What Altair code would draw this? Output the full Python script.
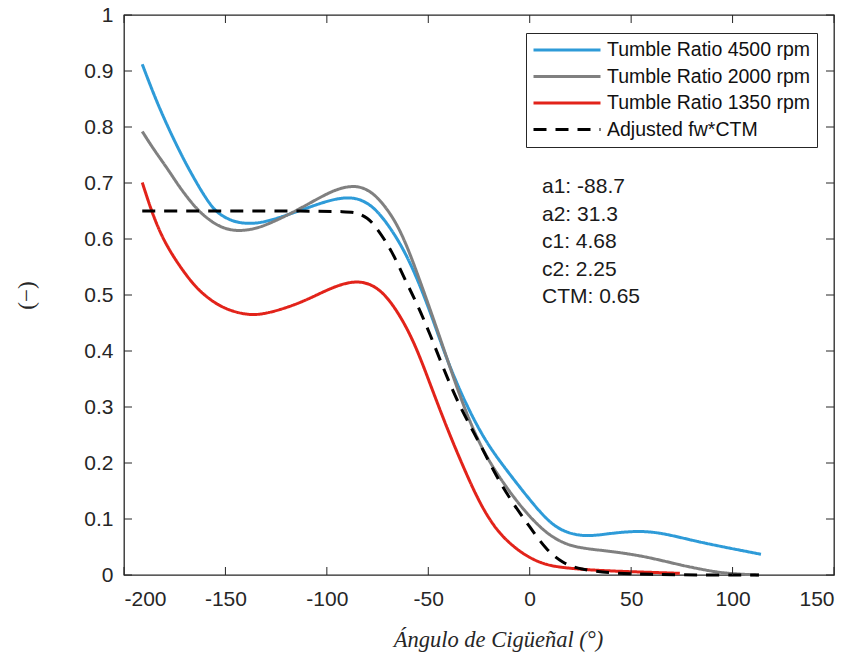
import altair as alt
import pandas as pd

# ---- data ----
series_names = ["Tumble Ratio 4500 rpm", "Tumble Ratio 2000 rpm",
                "Tumble Ratio 1350 rpm", "Adjusted fw*CTM"]

x_4500 = [-191, -185, -179, -174, -169, -162.6, -158, -154, -146, -138, -130, -113, -97, -87,
          -80.5, -74, -64, -56, -48, -41, -31, -21.4, -11.6, 0, 11.4, 21.3, 29.5, 41, 54,
          65.5, 82, 98.4, 114]
y_4500 = [0.912, 0.855, 0.805, 0.767, 0.731, 0.690, 0.664, 0.646, 0.630, 0.627, 0.630,
          0.651, 0.672, 0.675, 0.666, 0.647, 0.595, 0.535, 0.460, 0.385, 0.301, 0.236,
          0.188, 0.134, 0.086, 0.072, 0.069, 0.075, 0.079, 0.075, 0.060, 0.048, 0.037]

x_2000 = [-191, -185, -179, -174, -169, -162.6, -154, -146, -138, -130, -113, -97, -87,
          -80.5, -74, -64, -54.3, -44.4, -36.2, -28, -19.8, -8.3, 0, 8.1, 16.3, 24.5, 41,
          57.3, 73.8, 90.2, 100, 113]
y_2000 = [0.792, 0.758, 0.728, 0.700, 0.675, 0.647, 0.623, 0.614, 0.616, 0.624, 0.654,
          0.688, 0.696, 0.690, 0.672, 0.622, 0.528, 0.426, 0.337, 0.259, 0.200, 0.140,
          0.104, 0.075, 0.057, 0.048, 0.042, 0.033, 0.018, 0.006, 0.002, 0.0]

x_1350 = [-191, -185.5, -179, -169, -162.6, -154, -146, -138, -130, -113, -97, -85, -75.5,
          -67.3, -57.5, -49.3, -41.1, -32.9, -24.7, -16.5, -8.3, 0, 8.1, 16.3, 32.7, 57.3, 74]
y_1350 = [0.701, 0.639, 0.586, 0.533, 0.506, 0.482, 0.470, 0.464, 0.466, 0.485, 0.515,
          0.527, 0.516, 0.484, 0.422, 0.343, 0.265, 0.194, 0.128, 0.080, 0.051, 0.030,
          0.018, 0.013, 0.008, 0.005, 0.003]

x_fit = [-191, -150, -110, -90, -85, -80, -76, -68, -60.8, -56, -49.3, -41.1, -32.9, -24.7,
         -16.5, -8.3, 0, 8.1, 16.3, 24.5, 40.9, 60, 80, 113]
y_fit = [0.65, 0.65, 0.65, 0.649, 0.647, 0.638, 0.623, 0.580, 0.522, 0.488, 0.432, 0.355,
         0.289, 0.236, 0.176, 0.128, 0.086, 0.045, 0.021, 0.010, 0.003, 0.001, 0.0, 0.0]

x_ticks = [-200, -150, -100, -50, 0, 50, 100, 150]
y_ticks = [0, 0.1, 0.2, 0.3, 0.4, 0.5, 0.6, 0.7, 0.8, 0.9, 1]
annotation_lines = ["a1: -88.7", "a2: 31.3", "c1: 4.68", "c2: 2.25", "CTM: 0.65"]

colors = ["#2e9bd8", "#808080", "#e2231a", "#000000"]
dashes = [[1, 0], [1, 0], [1, 0], [13, 9]]
widths = [3, 3, 3, 3.5]

rows = []
for name, xs, ys in zip(series_names, [x_4500, x_2000, x_1350, x_fit],
                        [y_4500, y_2000, y_1350, y_fit]):
    for i, (a, b) in enumerate(zip(xs, ys)):
        rows.append({"series": name, "angle": a, "value": b, "order": i})
df = pd.DataFrame(rows)
xt = pd.DataFrame({"angle": x_ticks})
yt = pd.DataFrame({"value": y_ticks})

W, H = 710, 560
TL = 8  # inward tick length (px)
AX = "#262626"
xscale = alt.Scale(domain=[-200, 150], nice=False, zero=False)
yscale = alt.Scale(domain=[0, 1], nice=False, zero=False)

x_axis = alt.Axis(
    values=x_ticks, labelExpr="'' + datum.value", tickSize=0, ticks=False, labelPadding=13,
    domain=False, grid=False, labelFont="Liberation Sans", labelFontSize=21,
    labelColor=AX, title="Ángulo de Cigüeñal (°)", titleFont="Liberation Serif",
    titleFontStyle="italic", titleFontWeight="normal", titleFontSize=22.5,
    titleColor=AX, titleX=374, titleY=71, titleBaseline="alphabetic",
    titleAlign="center")
y_axis = alt.Axis(
    values=y_ticks, format="~g", tickSize=0, ticks=False, labelPadding=11, domain=False,
    grid=False, labelFont="Liberation Sans", labelFontSize=21, labelColor=AX,
    title="(−)", titleFont="Liberation Serif", titleFontWeight="normal",
    titleFontSize=23, titleColor=AX, titleAngle=270, titleX=-98, titleY=280,
    titleAlign="center", titleBaseline="middle")

X = alt.X("angle:Q", scale=xscale, axis=x_axis)
Y = alt.Y("value:Q", scale=yscale, axis=y_axis)

legend = alt.Legend(
    title=None, orient="none", legendX=402, legendY=18,
    symbolType="stroke", symbolSize=4489, symbolStrokeWidth=3.5,
    clipHeight=22, rowPadding=4.5, padding=6, labelOffset=5,
    labelFont="Liberation Sans", labelFontSize=19.5, labelColor="#111111",
    labelLimit=400, strokeColor=AX, fillColor="white",
)

lines = alt.Chart(df).mark_line(interpolate="basis").encode(
    x=X, y=Y,
    color=alt.Color("series:N", scale=alt.Scale(domain=series_names, range=colors),
                    legend=legend),
    strokeDash=alt.StrokeDash("series:N", scale=alt.Scale(domain=series_names, range=dashes),
                              legend=legend),
    strokeWidth=alt.StrokeWidth("series:N", scale=alt.Scale(domain=series_names, range=widths),
                                legend=None),
    order=alt.Order("order:Q"),
)

rule_style = dict(color=AX, strokeWidth=1)
ticks_bottom = alt.Chart(xt).mark_rule(**rule_style).encode(
    x=X, y=alt.value(H), y2=alt.value(H - TL))
ticks_top = alt.Chart(xt).mark_rule(**rule_style).encode(
    x=X, y=alt.value(0), y2=alt.value(TL))
ticks_left = alt.Chart(yt).mark_rule(**rule_style).encode(
    y=Y, x=alt.value(0), x2=alt.value(TL))
ticks_right = alt.Chart(yt).mark_rule(**rule_style).encode(
    y=Y, x=alt.value(W), x2=alt.value(W - TL))

annot = alt.Chart(pd.DataFrame({"t": ["\n".join(annotation_lines)]})).mark_text(
    align="left", baseline="top", lineBreak="\n", font="Liberation Sans",
    fontSize=21, lineHeight=27.5, color="#1a1a1a",
).encode(text="t:N", x=alt.value(418), y=alt.value(161))

chart = alt.layer(
    lines, ticks_bottom, ticks_top, ticks_left, ticks_right, annot
).properties(
    width=W, height=H,
    autosize=alt.AutoSizeParams(type="none"),
    padding={"left": 124, "top": 15, "right": 21, "bottom": 82},
    background="white",
).configure_view(stroke=AX, strokeWidth=1.3)

chart.save("out.html", embed_options={"renderer": "svg", "actions": False})
